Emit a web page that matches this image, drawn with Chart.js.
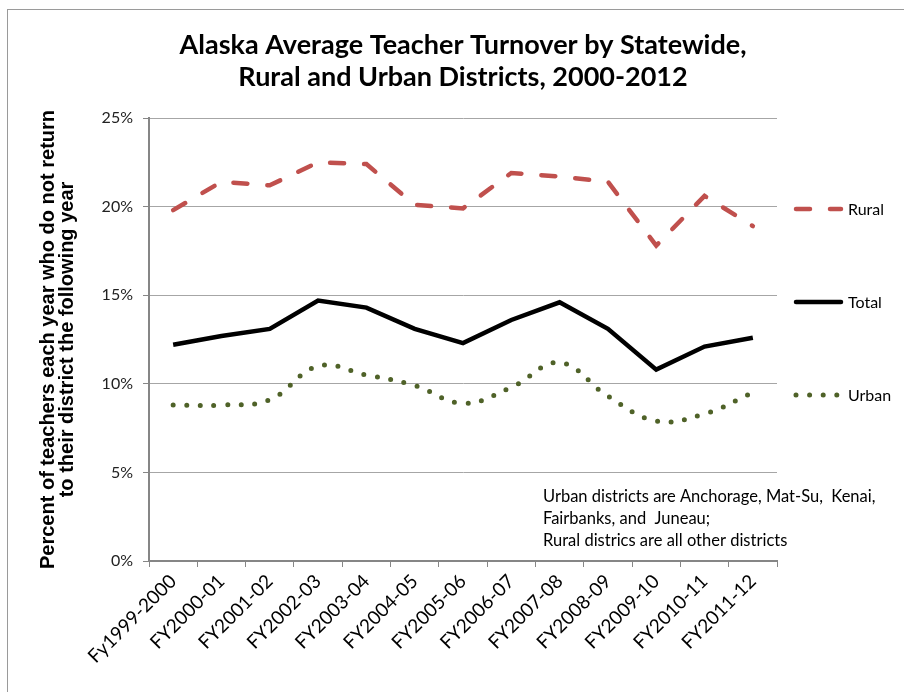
<!DOCTYPE html>
<html>
<head>
<meta charset="utf-8">
<script src="https://cdn.jsdelivr.net/npm/chart.js@4.4.1/dist/chart.umd.min.js"></script>
<style>
  html, body { margin: 0; padding: 0; background: #fff; }
  #wrap { width: 904px; height: 692px; }
</style>
</head>
<body>
<div id="wrap"><canvas id="turnoverChart" width="904" height="692"></canvas></div>
<script>
// ====================== DATA ======================
const years = ["Fy1999-2000", "FY2000-01", "FY2001-02", "FY2002-03", "FY2003-04", "FY2004-05",
  "FY2005-06", "FY2006-07", "FY2007-08", "FY2008-09", "FY2009-10", "FY2010-11", "FY2011-12"];
const rural = [19.8, 21.4, 21.2, 22.5, 22.4, 20.1, 19.9, 21.9, 21.7, 21.4, 17.8, 20.6, 18.9];
const total = [12.2, 12.7, 13.1, 14.7, 14.3, 13.1, 12.3, 13.6, 14.6, 13.1, 10.8, 12.1, 12.6];
const urban = [8.8, 8.8, 9.1, 11.0, 10.5, 9.9, 8.9, 9.8, 11.2, 9.3, 7.9, 8.3, 9.5];
const yTicks = [0, 5, 10, 15, 20, 25];

const titleLines = ["Alaska Average Teacher Turnover by Statewide,", "Rural and Urban Districts, 2000-2012"];
const yTitleLines = ["Percent of teachers each year who do not return", "to their district the following year"];
const noteLines = ["Urban districts are Anchorage, Mat-Su,  Kenai,", "Fairbanks, and  Juneau;", "Rural districs are all other districts"];

const calibri = "Lato, 'Open Sans', sans-serif";
const axisGray = "#868686";

// ====================== PLUGINS ======================
// white page + thin frame like the Excel chart box
const frame = {
  id: "frame",
  beforeDraw(chart) {
    const ctx = chart.ctx;
    ctx.save();
    ctx.fillStyle = "#fff";
    ctx.fillRect(0, 0, chart.width, chart.height);
    ctx.strokeStyle = "#9a9a9a";
    ctx.lineWidth = 1;
    ctx.strokeRect(7.5, 9.5, chart.width + 20, chart.height + 20);
    ctx.restore();
  }
};

// legend on the right side and the note inside the plot
const sideLegend = {
  id: "sideLegend",
  afterDraw(chart) {
    const ctx = chart.ctx;
    const rows = [
      { ds: chart.data.datasets[0], y: 209 },
      { ds: chart.data.datasets[1], y: 302 },
      { ds: chart.data.datasets[2], y: 395 }
    ];
    ctx.save();
    rows.forEach(r => {
      ctx.beginPath();
      ctx.strokeStyle = r.ds.borderColor;
      ctx.lineWidth = r.ds.borderWidth;
      ctx.lineCap = "round";
      ctx.setLineDash(r.ds.borderDash || []);
      ctx.moveTo(796, r.y);
      ctx.lineTo(841, r.y);
      ctx.stroke();
      ctx.setLineDash([]);
      ctx.fillStyle = "#000";
      ctx.font = "16px " + calibri;
      ctx.textBaseline = "middle";
      ctx.textAlign = "left";
      ctx.fillText(r.ds.label, 848, r.y + 1);
    });

    ctx.font = "16.5px " + calibri;
    ctx.textBaseline = "middle";
    noteLines.forEach((t, i) => ctx.fillText(t, 543, 497 + i * 22));
    ctx.restore();
  }
};

// ====================== CHART ======================
const ctx = document.getElementById("turnoverChart").getContext("2d");
const chart = new Chart(ctx, {
  type: "line",
  data: {
    labels: years,
    datasets: [
      {
        label: "Rural",
        data: rural,
        borderColor: "#c0504d",
        borderWidth: 4.5,
        borderDash: [14, 20],
        borderCapStyle: "round",
        pointRadius: 0,
        tension: 0
      },
      {
        label: "Total",
        data: total,
        borderColor: "#000000",
        borderWidth: 4.5,
        pointRadius: 0,
        tension: 0
      },
      {
        label: "Urban",
        data: urban,
        borderColor: "#4f6228",
        borderWidth: 5,
        borderDash: [0, 13.6],
        borderCapStyle: "round",
        pointRadius: 0,
        tension: 0.4
      }
    ]
  },
  options: {
    responsive: false,
    animation: false,
    layout: { padding: { top: 0, right: 127, bottom: 0, left: 0 } },
    plugins: {
      legend: { display: false },
      tooltip: { enabled: false },
      title: {
        display: true,
        text: titleLines,
        fullSize: false,
        color: "#000",
        font: { family: calibri, size: 27, weight: "bold", lineHeight: 32 / 27 },
        padding: { top: 29, bottom: 25 }
      }
    },
    scales: {
      x: {
        type: "category",
        offset: true,
        afterFit(scale) { scale.height = 131; },
        grid: {
          offset: true,
          drawOnChartArea: false,
          drawTicks: true,
          tickLength: 6,
          tickColor: axisGray
        },
        border: { display: true, color: axisGray, width: 2 },
        ticks: {
          autoSkip: false,
          maxRotation: 45,
          minRotation: 45,
          padding: 3,
          color: "#000",
          font: { family: calibri, size: 19 }
        }
      },
      y: {
        min: 0,
        max: 25,
        afterFit(scale) { scale.width = 149; },
        afterBuildTicks(scale) { scale.ticks = yTicks.map(v => ({ value: v })); },
        grid: {
          color: "#a6a6a6",
          lineWidth: 1,
          drawTicks: true,
          tickLength: 6,
          tickColor: axisGray
        },
        border: { display: true, color: axisGray, width: 2 },
        ticks: {
          padding: 10,
          color: "#222",
          font: { family: calibri, size: 16 },
          callback: v => v + "%"
        },
        title: {
          display: true,
          text: yTitleLines,
          color: "#000",
          font: { family: "'Liberation Sans', Arial, sans-serif", size: 20, weight: "bold", lineHeight: 19 / 20 },
          padding: { top: 38.5 }
        }
      }
    }
  },
  plugins: [frame, sideLegend]
});
</script>
</body>
</html>
